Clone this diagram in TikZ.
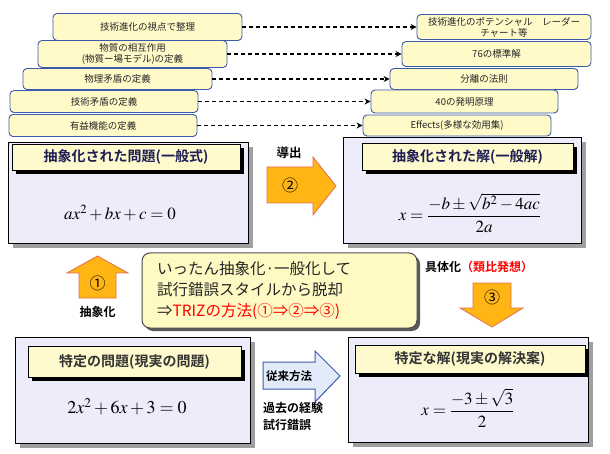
\documentclass[tikz,border=0pt]{standalone}
\usepackage{mathptmx}
\usepackage{fontspec}
\newfontfamily\jp{Noto Sans CJK JP}[BoldFont={* Bold}]
\usetikzlibrary{arrows.meta, positioning, shadows}
\definecolor{panelfill}{RGB}{236,236,250}
\definecolor{headfill}{RGB}{255,250,205}
\definecolor{stackfill}{RGB}{255,250,200}
\definecolor{stackline}{RGB}{60,90,170}
\definecolor{gold}{RGB}{255,182,20}
\definecolor{goldedge}{RGB}{225,110,80}
\definecolor{notefill}{RGB}{255,250,195}
\definecolor{navytext}{RGB}{30,30,85}
\definecolor{skyfill}{RGB}{225,235,250}
\tikzset{
    stackbox/.style={draw=stackline, rectangle, rounded corners=4pt, fill=stackfill, line width=0.9pt, inner sep=0pt, align=center, text=black!85, font=\jp\fontsize{9.5}{11}\selectfont},
    panel/.style={draw=black, rectangle, fill=panelfill, line width=0.8pt, inner sep=0pt, drop shadow={shadow xshift=5pt, shadow yshift=-5pt, fill=gray!75, opacity=1}},
    headbox/.style={draw=black, rectangle, fill=headfill, line width=0.6pt, inner sep=0pt, font=\jp\bfseries\fontsize{14}{16}\selectfont, drop shadow={shadow xshift=4pt, shadow yshift=-4pt, fill=black, opacity=1}},
    formula/.style={inner sep=0pt, font=\fontsize{17}{20}\selectfont},
    note/.style={draw=gray!60!black, rectangle, rounded corners=8pt, fill=notefill, line width=1pt, inner sep=0pt, align=left, text=black!85, font=\jp\fontsize{15.5}{21}\selectfont, drop shadow={shadow xshift=3pt, shadow yshift=-3pt, fill=gray!70!black, opacity=1}},
    label/.style={inner sep=0pt, align=left, font=\jp\bfseries\fontsize{12}{17}\selectfont},
    digit/.style={inner sep=0pt, font=\jp\fontsize{16}{16}\selectfont},
    bigarrow/.style={fill=gold, draw=goldedge, line width=0.8pt},
    oldarrow/.style={fill=skyfill, draw=stackline, line width=1pt},
    dasharrow/.style={draw, dash pattern=on 4pt off 3pt, line width=1.2pt, -{Stealth[length=6pt, width=6pt]}}
}
\begin{document}
\begin{tikzpicture}[x=1pt, y=-1pt]
    \useasboundingbox (0,0) rectangle (610,454);
    % definitions (left) and TRIZ tools (right)
    \node [stackbox, minimum width=189pt, minimum height=27pt] (evo) at (147.5,27) {技術進化の視点で整理};
    \node [stackbox, minimum width=189pt, minimum height=27pt] (sfm) at (132.5,54) {物質の相互作用\\(物質ー場モデル)の定義};
    \node [stackbox, minimum width=189pt, minimum height=21pt] (phy) at (117.5,79) {物理矛盾の定義};
    \node [stackbox, minimum width=188pt, minimum height=22pt] (tec) at (104,101.5) {技術矛盾の定義};
    \node [stackbox, minimum width=188pt, minimum height=22pt] (use) at (103,125.5) {有益機能の定義};
    \node [stackbox, minimum width=174pt, minimum height=25pt] (radar) at (504,27) {技術進化のポテンシャル　レーダー\\チャート等};
    \node [stackbox, minimum width=189pt, minimum height=25pt] (std) at (496.5,54) {76の標準解};
    \node [stackbox, minimum width=188pt, minimum height=21pt] (sep) at (484,79) {分離の法則};
    \node [stackbox, minimum width=187pt, minimum height=23pt] (inv) at (464.5,101.5) {40の発明原理};
    \node [stackbox, minimum width=188pt, minimum height=21pt] (eff) at (457,125.5) {Effects(多様な効用集)};
    \draw [dasharrow] (evo) -- (radar);
    \draw [dasharrow] (sfm) -- (std);
    \draw [dasharrow] (phy) -- (sep);
    \draw [dasharrow] (tec) -- (inv);
    \draw [dasharrow] (use) -- (eff);

    % four panels
    \node [panel, minimum width=240pt, minimum height=101pt] (absq) at (128,192.5) {};
    \node [headbox, text=navytext, minimum width=228pt, minimum height=26pt] (absqh) at (126,157) {抽象化された問題(一般式)};
    \node [formula] (absqf) at (120,213) {$ax^2+bx+c=0$};
    \node [panel, minimum width=238pt, minimum height=106pt] (abss) at (462,190) {};
    \node [headbox, text=navytext, minimum width=211pt, minimum height=27pt] (abssh) at (467.5,156.5) {抽象化された解(一般解)};
    \node [formula] (abssf) at (470,213) {$x=\displaystyle\frac{-b\pm\sqrt{b^2-4ac}}{2a}$};
    \node [panel, minimum width=235pt, minimum height=106pt] (spq) at (132.5,390) {};
    \node [headbox, text=black!80, minimum width=213pt, minimum height=31pt] (spqh) at (134.5,361.5) {特定の問題(現実の問題)};
    \node [formula, font=\fontsize{18}{21}\selectfont] (spqf) at (127,407) {$2x^2+6x+3=0$};
    \node [panel, minimum width=240pt, minimum height=105pt] (sps) at (468,389.5) {};
    \node [headbox, text=black!80, minimum width=230pt, minimum height=28pt] (spsh) at (470,359) {特定な解(現実の解決案)};
    \node [formula] (spsf) at (468,408) {$x=\displaystyle\frac{-3\pm\sqrt{3}}{2}$};

    % block arrows
    \draw [bigarrow] (79,298) -- (79,273) -- (67,273) -- (97.5,256) -- (128,273) -- (116,273) -- (116,298) -- cycle;
    \node [digit] (one) at (97.5,283) {①};
    \node [label, below=15pt of one] (abstr) {抽象化};
    \draw [bigarrow] (267,167) -- (313,167) -- (313,157) -- (336,186) -- (313,215) -- (313,203) -- (267,203) -- cycle;
    \node [digit] (two) at (290,185) {②};
    \node [label, font=\jp\bfseries\fontsize{12.5}{14}\selectfont] (deriv) at (289,153) {導出};
    \draw [bigarrow] (473,283) -- (511,283) -- (511,308) -- (523,308) -- (492,327) -- (460,308) -- (473,308) -- cycle;
    \node [digit] (three) at (492,297) {③};
    \node [label, anchor=west] (concr) at (425,267) {具体化\textcolor{red}{（類比発想）}};
    \draw [oldarrow] (263,362) -- (315,362) -- (315,351) -- (340,376) -- (315,402) -- (315,389) -- (263,389) -- cycle;
    \node [label, font=\jp\bfseries\fontsize{11.5}{12}\selectfont] (old) at (289,376) {従来方法};
    \node [label, anchor=north west] (trial) at (263,402) {過去の経験\\試行錯誤};

    % summary note
    \node [note, minimum width=275pt, minimum height=75pt, text width=245pt] (sum) at (279.5,290.5) {いったん抽象化·一般化して\\試行錯誤スタイルから脱却\\⇒\textcolor{red}{TRIZの方法(①⇒②⇒③)}};
\end{tikzpicture}
\end{document}
